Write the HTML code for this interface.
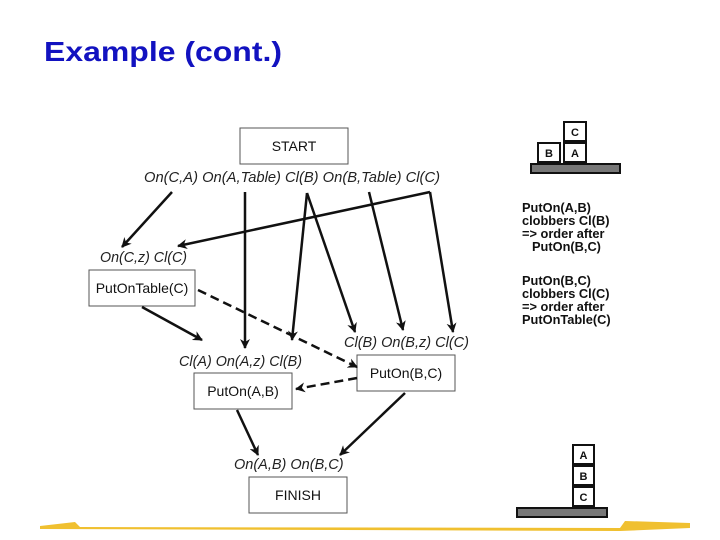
<!DOCTYPE html>
<html><head><style>
body{margin:0;background:#fff;width:720px;height:540px;overflow:hidden}
svg{display:block}
.l{font-family:"Liberation Sans",sans-serif;font-style:italic;font-size:14.5px;fill:#222}
.b{font-family:"Liberation Sans",sans-serif;font-size:14px;fill:#111}
.r{font-family:"Liberation Sans",sans-serif;font-weight:bold;font-size:12.8px;fill:#111}
.k{font-family:"Liberation Sans",sans-serif;font-weight:bold;font-size:11px;fill:#111}
</style></head><body>
<svg width="720" height="540" viewBox="0 0 720 540">
<defs><marker id="a" markerWidth="10" markerHeight="10" refX="9" refY="5" orient="auto" markerUnits="userSpaceOnUse"><path d="M0,0 L10,5 L0,10 L3,5 Z" fill="#111"/></marker></defs>
<text x="44" y="61" font-family="Liberation Sans,sans-serif" font-weight="bold" font-size="27.5" fill="#1212c0" textLength="238" lengthAdjust="spacingAndGlyphs">Example (cont.)</text>
<g fill="#fff" stroke="#555" stroke-width="1">
<rect x="240" y="128" width="108" height="36"/>
<rect x="89" y="270" width="106" height="36"/>
<rect x="194" y="373" width="98" height="36"/>
<rect x="357" y="355" width="98" height="36"/>
<rect x="249" y="477" width="98" height="36"/>
</g>
<text class="b" x="294" y="151" text-anchor="middle">START</text>
<text class="b" x="142" y="293" text-anchor="middle">PutOnTable(C)</text>
<text class="b" x="243" y="396" text-anchor="middle">PutOn(A,B)</text>
<text class="b" x="406" y="378" text-anchor="middle">PutOn(B,C)</text>
<text class="b" x="298" y="500" text-anchor="middle">FINISH</text>
<text class="l" x="144" y="182" textLength="296" lengthAdjust="spacingAndGlyphs">On(C,A) On(A,Table) Cl(B) On(B,Table) Cl(C)</text>
<text class="l" x="100" y="262" textLength="87" lengthAdjust="spacingAndGlyphs">On(C,z) Cl(C)</text>
<text class="l" x="344" y="347" textLength="125" lengthAdjust="spacingAndGlyphs">Cl(B) On(B,z) Cl(C)</text>
<text class="l" x="179" y="366" textLength="123" lengthAdjust="spacingAndGlyphs">Cl(A) On(A,z) Cl(B)</text>
<text class="l" x="234" y="469">On(A,B) On(B,C)</text>
<g stroke="#111" stroke-width="2.5" fill="none" marker-end="url(#a)">
<line x1="172" y1="192" x2="122" y2="247"/>
<line x1="245" y1="192" x2="245" y2="348"/>
<line x1="307" y1="193" x2="292" y2="340"/>
<line x1="307" y1="193" x2="355" y2="332"/>
<line x1="369" y1="192" x2="403" y2="330"/>
<line x1="430" y1="192" x2="453" y2="332"/>
<line x1="430" y1="192" x2="178" y2="246"/>
<line x1="142" y1="307" x2="202" y2="340"/>
<line x1="237" y1="410" x2="258" y2="455"/>
<line x1="405" y1="393" x2="340" y2="455"/>
<line x1="198" y1="290" x2="357" y2="367" stroke-dasharray="9,5"/>
<line x1="357" y1="378" x2="296" y2="389" stroke-dasharray="9,5"/>
</g>
<g stroke="#111" stroke-width="2">
<rect x="531" y="164" width="89" height="9" fill="#777"/>
<rect x="538" y="143" width="22" height="19" fill="#fff"/>
<rect x="564" y="143" width="22" height="19" fill="#fff"/>
<rect x="564" y="122" width="22" height="19" fill="#fff"/>
<rect x="517" y="508" width="90" height="9" fill="#777"/>
<rect x="573" y="487" width="21" height="19" fill="#fff"/>
<rect x="573" y="466" width="21" height="19" fill="#fff"/>
<rect x="573" y="445" width="21" height="19" fill="#fff"/>
</g>
<text class="k" x="549" y="157" text-anchor="middle">B</text>
<text class="k" x="575" y="157" text-anchor="middle">A</text>
<text class="k" x="575" y="136" text-anchor="middle">C</text>
<text class="k" x="583.5" y="501" text-anchor="middle">C</text>
<text class="k" x="583.5" y="480" text-anchor="middle">B</text>
<text class="k" x="583.5" y="459" text-anchor="middle">A</text>
<text class="r" x="522" y="212">PutOn(A,B)</text>
<text class="r" x="522" y="225">clobbers Cl(B)</text>
<text class="r" x="522" y="238">=&gt; order after</text>
<text class="r" x="532" y="251">PutOn(B,C)</text>
<text class="r" x="522" y="285">PutOn(B,C)</text>
<text class="r" x="522" y="298">clobbers Cl(C)</text>
<text class="r" x="522" y="311">=&gt; order after</text>
<text class="r" x="522" y="324">PutOnTable(C)</text>
<path d="M40,526 L75,522 L80,527 L620,528 L625,521 L690,523 L690,528 L620,531 L40,529 Z" fill="#f0c030"/>
</svg>
</body></html>
